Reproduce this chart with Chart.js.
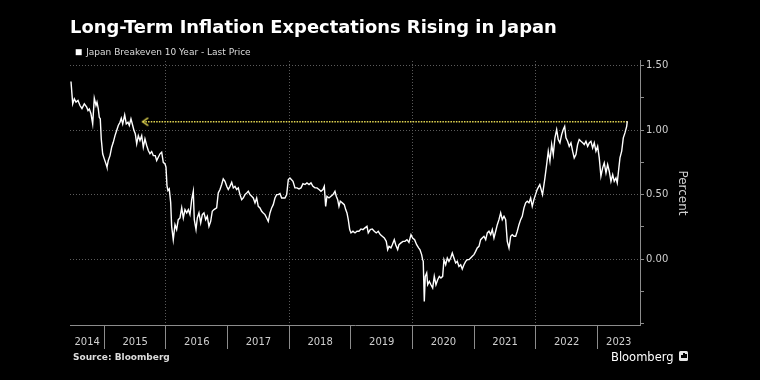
<!DOCTYPE html>
<html><head><meta charset="utf-8">
<script src="https://cdn.jsdelivr.net/npm/chart.js@4.4.0/dist/chart.umd.min.js"></script>
<style>
html,body{margin:0;padding:0;background:#000;}
#wrap{position:relative;width:760px;height:380px;background:#000;overflow:hidden;}
canvas{display:block}
.src{position:absolute;left:73px;top:351px;font:bold 9px "DejaVu Sans";color:#ddd;line-height:12px;white-space:nowrap}
.logo{position:absolute;left:611px;top:349px;font:11.5px "DejaVu Sans";color:#fff;line-height:16px;white-space:nowrap}
.icon{position:absolute;left:679px;top:351px;width:9px;height:10px;background:#e6e6e6;border-radius:1.5px}
.icon i{position:absolute;bottom:3px;width:1.5px;background:#000}
</style></head><body>
<div id="wrap"><canvas id="c" width="760" height="380"></canvas>
<div class="src">Source: Bloomberg</div><div class="logo">Bloomberg</div>
<div class="icon"><i style="left:2px;height:3px"></i><i style="left:4px;height:5px"></i><i style="left:6px;height:4px"></i></div></div>
<script>
const dates = [
2014.459,2014.487,2014.513,2014.540,2014.573,2014.605,2014.637,2014.675,2014.714,2014.735,
2014.756,2014.783,2014.811,2014.837,2014.865,2014.881,2014.902,2014.918,2014.934,2014.950,
2014.973,2014.999,2015.027,2015.043,2015.064,2015.092,2015.119,2015.145,2015.173,2015.200,
2015.226,2015.254,2015.275,2015.298,2015.330,2015.356,2015.384,2015.405,2015.432,2015.460,
2015.481,2015.502,2015.525,2015.551,2015.578,2015.606,2015.632,2015.659,2015.687,2015.713,
2015.740,2015.768,2015.794,2015.826,2015.849,2015.875,2015.903,2015.930,2015.956,2015.984,
2016.000,2016.016,2016.032,2016.053,2016.076,2016.092,2016.118,2016.146,2016.173,2016.199,
2016.227,2016.255,2016.281,2016.308,2016.336,2016.362,2016.389,2016.417,2016.443,2016.459,
2016.487,2016.508,2016.535,2016.563,2016.589,2016.616,2016.644,2016.670,2016.697,2016.725,
2016.751,2016.779,2016.822,2016.848,2016.876,2016.903,2016.929,2016.957,2016.985,2017.010,
2017.038,2017.066,2017.092,2017.119,2017.147,2017.173,2017.200,2017.228,2017.254,2017.281,
2017.309,2017.335,2017.362,2017.390,2017.416,2017.444,2017.471,2017.497,2017.525,2017.552,
2017.578,2017.606,2017.633,2017.659,2017.687,2017.714,2017.740,2017.768,2017.795,2017.821,
2017.849,2017.876,2017.903,2017.930,2017.958,2017.984,2018.011,2018.060,2018.092,2018.125,
2018.157,2018.190,2018.222,2018.255,2018.287,2018.320,2018.352,2018.384,2018.417,2018.449,
2018.482,2018.514,2018.546,2018.568,2018.590,2018.611,2018.644,2018.676,2018.709,2018.741,
2018.762,2018.785,2018.806,2018.827,2018.860,2018.892,2018.915,2018.936,2018.957,2018.980,
2019.001,2019.033,2019.066,2019.098,2019.130,2019.163,2019.195,2019.228,2019.260,2019.281,
2019.314,2019.346,2019.379,2019.411,2019.443,2019.476,2019.508,2019.541,2019.573,2019.596,
2019.617,2019.649,2019.671,2019.703,2019.726,2019.758,2019.779,2019.812,2019.844,2019.876,
2019.909,2019.941,2019.974,2020.001,2020.033,2020.066,2020.098,2020.119,2020.147,2020.163,
2020.173,2020.190,2020.206,2020.229,2020.245,2020.271,2020.298,2020.326,2020.352,2020.379,
2020.407,2020.433,2020.460,2020.488,2020.509,2020.537,2020.563,2020.590,2020.618,2020.644,
2020.671,2020.699,2020.725,2020.752,2020.780,2020.806,2020.833,2020.861,2020.887,2020.915,
2020.942,2020.968,2020.996,2021.023,2021.049,2021.077,2021.104,2021.130,2021.158,2021.186,
2021.212,2021.239,2021.267,2021.293,2021.320,2021.348,2021.374,2021.401,2021.429,2021.455,
2021.483,2021.510,2021.536,2021.564,2021.591,2021.617,2021.645,2021.672,2021.698,2021.726,
2021.753,2021.779,2021.807,2021.834,2021.860,2021.888,2021.915,2021.941,2021.968,2021.994,
2022.021,2022.048,2022.064,2022.108,2022.147,2022.175,2022.201,2022.228,2022.256,2022.282,
2022.309,2022.337,2022.363,2022.390,2022.418,2022.444,2022.467,2022.488,2022.515,2022.541,
2022.569,2022.596,2022.622,2022.650,2022.677,2022.703,2022.731,2022.759,2022.785,2022.812,
2022.840,2022.866,2022.893,2022.921,2022.947,2022.974,2023.002,2023.028,2023.055,2023.083,
2023.109,2023.137,2023.164,2023.190,2023.218,2023.246,2023.271,2023.299,2023.320,2023.343,
2023.364,2023.392,2023.418,2023.445,2023.473,2023.483
];
const breakeven = [
1.376,1.203,1.242,1.216,1.229,1.190,1.167,1.203,1.177,1.151,
1.164,1.126,1.048,1.247,1.190,1.216,1.164,1.099,1.087,0.932,
0.816,0.777,0.738,0.712,0.764,0.802,0.867,0.905,0.957,0.996,
1.035,1.060,1.091,1.048,1.118,1.048,1.060,1.035,1.087,1.035,
0.996,0.971,0.893,0.957,0.919,0.957,0.867,0.932,0.880,0.841,
0.816,0.833,0.802,0.802,0.764,0.789,0.816,0.828,0.750,0.738,
0.712,0.570,0.531,0.544,0.440,0.254,0.151,0.267,0.229,0.306,
0.319,0.397,0.319,0.384,0.358,0.384,0.345,0.461,0.526,0.306,
0.229,0.319,0.358,0.281,0.345,0.358,0.306,0.332,0.254,0.293,
0.371,0.384,0.397,0.513,0.539,0.578,0.622,0.603,0.564,0.539,
0.564,0.595,0.552,0.564,0.539,0.552,0.500,0.461,0.474,0.500,
0.513,0.526,0.500,0.487,0.474,0.436,0.474,0.409,0.397,0.371,
0.358,0.345,0.319,0.293,0.358,0.397,0.422,0.474,0.500,0.500,
0.508,0.474,0.474,0.474,0.500,0.616,0.629,0.603,0.552,0.552,
0.544,0.552,0.585,0.578,0.591,0.578,0.591,0.564,0.552,0.552,
0.539,0.526,0.539,0.564,0.409,0.487,0.474,0.487,0.500,0.526,
0.487,0.461,0.409,0.448,0.436,0.422,0.384,0.358,0.306,0.229,
0.203,0.216,0.203,0.216,0.216,0.234,0.229,0.242,0.254,0.203,
0.229,0.234,0.216,0.203,0.216,0.190,0.177,0.164,0.138,0.074,
0.099,0.087,0.112,0.151,0.112,0.074,0.112,0.126,0.138,0.138,
0.151,0.130,0.190,0.164,0.151,0.112,0.087,0.074,0.035,-0.004,
-0.017,-0.327,-0.133,-0.107,-0.198,-0.172,-0.198,-0.223,-0.133,-0.198,
-0.159,-0.133,-0.146,-0.133,-0.004,-0.043,0.009,-0.017,0.009,0.048,
0.009,-0.029,-0.017,-0.056,-0.043,-0.076,-0.043,-0.017,-0.004,-0.004,
0.009,0.022,0.035,0.060,0.087,0.099,0.151,0.164,0.177,0.151,
0.203,0.216,0.190,0.229,0.164,0.216,0.267,0.306,0.358,0.306,
0.332,0.306,0.138,0.087,0.177,0.190,0.177,0.177,0.216,0.267,
0.306,0.332,0.397,0.436,0.448,0.436,0.474,0.409,0.461,0.500,
0.539,0.564,0.578,0.500,0.629,0.733,0.836,0.758,0.888,0.810,
0.940,1.004,0.926,0.901,0.965,1.004,1.029,0.940,0.913,0.874,
0.901,0.836,0.784,0.810,0.888,0.926,0.913,0.901,0.888,0.913,
0.874,0.901,0.913,0.862,0.901,0.836,0.874,0.784,0.642,0.707,
0.746,0.668,0.733,0.681,0.603,0.655,0.603,0.629,0.591,0.694,
0.784,0.836,0.940,0.978,1.029,1.068
];
const yearLabels = ['2014','2015','2016','2017','2018','2019','2020','2021','2022','2023'];
const yTickValues = [-0.5,-0.25,0,0.25,0.5,0.75,1,1.25,1.5];
const arrowYears = [2015.622, 2023.483];
const arrowLevel = [1.065, 1.065];
const X_MIN = 2014.443, X_MAX = 2023.689;

const ARROW_COLOR = '#e2d651';
const GRID = '#5c5c5c', AXIS = '#8c8c8c', TXT = '#cfcfcf';
const FONT = 'DejaVu Sans';
const LEGEND_HEIGHT = 19;

const arrowHead = document.createElement('canvas');
arrowHead.width = 14; arrowHead.height = 10;
(function(){ const g = arrowHead.getContext('2d'); g.strokeStyle = ARROW_COLOR; g.lineWidth = 1.5;
  g.beginPath(); g.moveTo(12.5,1.2); g.lineTo(7,5); g.lineTo(12.5,8.8); g.stroke(); })();

const isHalf = v => Math.abs(v*2 - Math.round(v*2)) < 1e-9;

const legendHeightPlugin = {
  id: 'legendHeight',
  beforeInit(chart) {
    const fit0 = chart.legend.fit;
    chart.legend.fit = function() { fit0.call(this); this.height = LEGEND_HEIGHT; };
  }
};

new Chart(document.getElementById('c'), {
  type: 'line',
  plugins: [legendHeightPlugin],
  data: { datasets: [
    { label: 'Japan Breakeven 10 Year - Last Price',
      data: dates.map((d,i)=>({x:d, y:breakeven[i]})),
      borderColor:'#ffffff', borderWidth:1.4, pointRadius:0, tension:0, order:1 },
    { label: 'arrow',
      data: arrowYears.map((d,i)=>({x:d, y:arrowLevel[i]})),
      borderColor: ARROW_COLOR, borderWidth:1.5, borderDash:[1.5,1.2], tension:0,
      pointStyle: arrowHead, pointRadius: c => c.dataIndex===0 ? 5 : 0, order:2 }
  ]},
  options: {
    responsive:false, animation:false, devicePixelRatio:1,
    layout: { padding: { left:70, right:60, top:0, bottom:25 } },
    plugins: {
      tooltip: { enabled:false },
      title: { display:true, text:'Long-Term Inflation Expectations Rising in Japan', align:'start',
        color:'#ffffff', font:{family:FONT, size:17.9, weight:'bold'}, padding:{top:17.5,bottom:3} },
      legend: { display:true, position:'top', align:'start',
        labels: { color:'#dddddd', font:{family:FONT, size:9}, boxWidth:6, boxHeight:6, padding:5.7,
          generateLabels: ch => [{ text: ch.data.datasets[0].label, fillStyle:'#ffffff', strokeStyle:'#ffffff',
            lineWidth:0, hidden:false, datasetIndex:0, fontColor:'#dddddd' }] } }
    },
    scales: {
      x: { type:'linear', position:'bottom', min:X_MIN, max:X_MAX,
        afterBuildTicks: s => {
          const t = [];
          yearLabels.forEach((lab, i) => {
            const y0 = 2014 + i;
            if (y0 > s.min) t.push({value:y0});
            const a = Math.max(y0, s.min), b = Math.min(y0+1, s.max);
            t.push({value:(a+b)/2});
          });
          t.sort((p,q)=>p.value-q.value);
          s.ticks = t;
        },
        afterFit: s => { s.height = 30; },
        ticks: { autoSkip:false, maxRotation:0, color:TXT, font:{family:FONT, size:10}, padding:-13,
          callback: v => Number.isInteger(v) ? '' : yearLabels[Math.floor(v)-2014] },
        grid: { color: c => (c.tick && Number.isInteger(c.tick.value) && c.tick.value % 2 === 0) ? GRID : 'transparent',
          tickColor: c => (c.tick && Number.isInteger(c.tick.value)) ? AXIS : 'transparent',
          tickLength:24, lineWidth:1 },
        border: { color:AXIS, width:1, dash:[1,2] }
      },
      y: { type:'linear', position:'right', min:-0.51, max:1.535,
        afterBuildTicks: s => { s.ticks = yTickValues.map(v=>({value:v})); },
        afterFit: s => { s.width = 60; },
        ticks: { autoSkip:false, color:TXT, font:{family:FONT, size:10}, padding:2,
          callback: v => (v >= 0 && isHalf(v)) ? v.toFixed(2) : '' },
        grid: { color: c => (c.tick && c.tick.value > -0.4 && isHalf(c.tick.value)) ? GRID : 'transparent',
          tickColor: AXIS, tickLength:4, lineWidth:1 },
        border: { color:AXIS, width:1, dash:[1,2] },
        title: { display:true, text:'Percent', color:TXT, font:{family:FONT, size:12}, padding:{top:11,bottom:0} }
      }
    }
  }
});
</script>
</body></html>
